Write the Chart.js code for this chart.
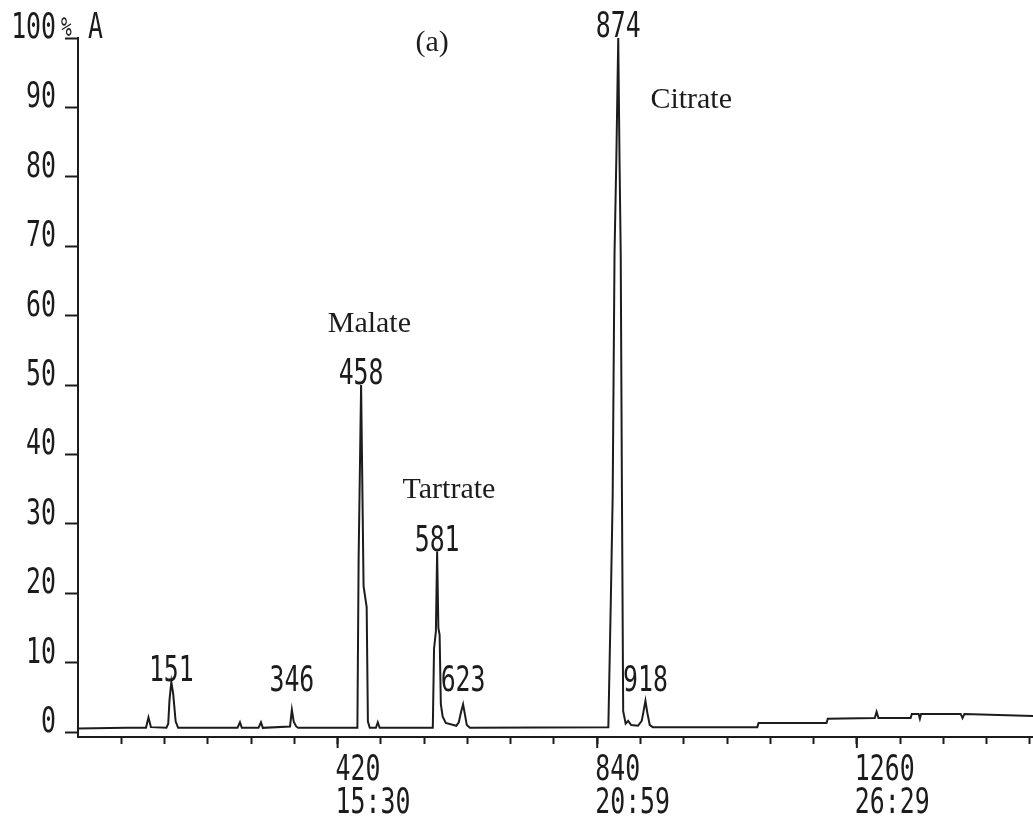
<!DOCTYPE html>
<html>
<head>
<meta charset="utf-8">
<title>Ion chromatogram</title>
<script src="https://cdn.jsdelivr.net/npm/chart.js@4.4.1/dist/chart.umd.min.js"></script>
<style>
  html, body { margin: 0; padding: 0; background: #fff; }
  #wrap { position: relative; width: 1033px; height: 820px; }
</style>
</head>
<body>
<div id="wrap"><canvas id="tic"></canvas></div>
<script>
// scan number and relative abundance (% of base peak) along the trace
const scans = [
    0, 78, 110, 114, 118, 143, 146, 148, 151, 154, 158, 162,
    258, 262, 265, 292, 296, 299, 343, 346, 349, 353, 356,
    452, 454, 458, 462, 467, 469, 472, 482, 485, 488,
    574, 576, 579, 581, 583, 585, 587, 590, 595, 612, 616, 620, 623, 626, 629, 634,
    858, 862, 865, 868, 871, 874, 876, 878, 880, 882, 886, 890, 895, 906, 912, 915, 918, 921, 925, 930,
    1099, 1101, 1211, 1213, 1289, 1292, 1295, 1347, 1349, 1360, 1362, 1364, 1428, 1431, 1434, 1545
];
const abundance = [
    0.5, 0.6, 0.6, 2.1, 0.7, 0.6, 1.2, 4.6, 7.2, 5.5, 1.5, 0.6,
    0.6, 1.4, 0.6, 0.6, 1.4, 0.6, 0.8, 3.2, 1.5, 0.8, 0.6,
    0.6, 25, 50, 21, 18, 1.5, 0.6, 0.6, 1.4, 0.6,
    0.6, 12, 14.5, 26, 15, 14, 4, 2.2, 1.3, 0.9, 1.4, 3, 4, 2.5, 1, 0.6,
    0.7, 19, 34, 69, 83, 100, 83, 69, 34, 3, 1.2, 1.6, 1.0, 0.9, 1.6, 3, 4.5, 2.8, 1, 0.7,
    0.7, 1.3, 1.3, 1.9, 2.0, 2.9, 2.0, 2.0, 2.6, 2.6, 1.9, 2.6, 2.6, 2.0, 2.6, 2.3
];

// peaks that get their scan number printed above the apex
const peakScans = [151, 346, 458, 581, 623, 874, 918];
// scan numbers are never printed lower than this level
const labelFloor = 5.7;

// axis ticks
const yTicks = [0, 10, 20, 30, 40, 50, 60, 70, 80, 90, 100];
const xMajorTicks = [420, 840, 1260];
const xTimeLabels = ['15:30', '20:59', '26:29'];
const xStep = 70;
const xMax = 1545;

// compound names written beside the peaks
const compoundNames = ['(a)', 'Malate', 'Tartrate', 'Citrate'];

const INK = '#1c1c1c';

// narrow printer-style text
function dotText(ctx, text, x, y, align, size) {
    ctx.save();
    ctx.translate(x, y);
    ctx.scale(0.69, 1);
    ctx.font = (size || 36) + 'px "DejaVu Sans Mono"';
    ctx.textAlign = align;
    ctx.textBaseline = 'alphabetic';
    ctx.fillText(text, 0, 0);
    ctx.restore();
}

const printerLabels = {
    id: 'printerLabels',
    // name anchors in scan / abundance units (left edge, baseline)
    anchors: [[546, 98.1], [404, 57.6], [525, 33.7], [926, 89.9]],
    afterDraw(chart) {
        const { ctx, chartArea } = chart;
        const x = chart.scales.x;
        const y = chart.scales.y;
        ctx.save();
        ctx.fillStyle = INK;
        ctx.strokeStyle = INK;

        // y labels sit on their tick
        yTicks.forEach(v => {
            dotText(ctx, String(v), chartArea.left - 22, y.getPixelForValue(v), 'right');
        });
        const top = y.getPixelForValue(100);
        dotText(ctx, '%', chartArea.left - 17, top - 2, 'left', 26);
        dotText(ctx, 'A', chartArea.left + 10, top, 'left');

        // scan number with retention time underneath, longer tick mark
        ctx.lineWidth = 2;
        xMajorTicks.forEach((v, i) => {
            const px = x.getPixelForValue(v);
            ctx.beginPath();
            ctx.moveTo(px, chartArea.bottom);
            ctx.lineTo(px, chartArea.bottom + 11);
            ctx.stroke();
            dotText(ctx, String(v), px - 2, chartArea.bottom + 43, 'left');
            dotText(ctx, xTimeLabels[i], px - 2, chartArea.bottom + 76, 'left');
        });

        // peak scan numbers
        peakScans.forEach(s => {
            const i = scans.indexOf(s);
            const level = Math.max(abundance[i], labelFloor);
            dotText(ctx, String(s), x.getPixelForValue(s), y.getPixelForValue(level) - 1, 'center');
        });

        // compound names
        ctx.font = '30px "Liberation Serif"';
        ctx.textAlign = 'left';
        ctx.textBaseline = 'alphabetic';
        compoundNames.forEach((name, i) => {
            const a = this.anchors[i];
            ctx.fillText(name, x.getPixelForValue(a[0]), y.getPixelForValue(a[1]));
        });
        ctx.restore();
    }
};

const trace = scans.map((s, i) => ({ x: s, y: abundance[i] }));

new Chart(document.getElementById('tic'), {
    type: 'line',
    data: {
        datasets: [{
            data: trace,
            borderColor: INK,
            borderWidth: 2,
            pointRadius: 0,
            tension: 0,
            fill: false
        }]
    },
    options: {
        responsive: true,
        maintainAspectRatio: false,
        animation: false,
        layout: { padding: { left: 65, top: 38, right: 0, bottom: 76 } },
        plugins: {
            legend: { display: false },
            tooltip: { enabled: false }
        },
        scales: {
            x: {
                type: 'linear',
                min: 0,
                max: xMax,
                afterBuildTicks: axis => {
                    const ticks = [];
                    for (let v = xStep; v <= xMax; v += xStep) ticks.push({ value: v });
                    axis.ticks = ticks;
                },
                ticks: { display: false },
                grid: { drawOnChartArea: false, drawTicks: true, tickLength: 7, tickWidth: 2, tickColor: INK },
                border: { color: INK, width: 2 }
            },
            y: {
                min: -0.72,
                max: 100,
                afterBuildTicks: axis => {
                    axis.ticks = yTicks.map(v => ({ value: v }));
                },
                ticks: { display: false },
                grid: { drawOnChartArea: false, drawTicks: true, tickLength: 13, tickWidth: 2, tickColor: INK },
                border: { color: INK, width: 2 }
            }
        }
    },
    plugins: [printerLabels]
});
</script>
</body>
</html>
